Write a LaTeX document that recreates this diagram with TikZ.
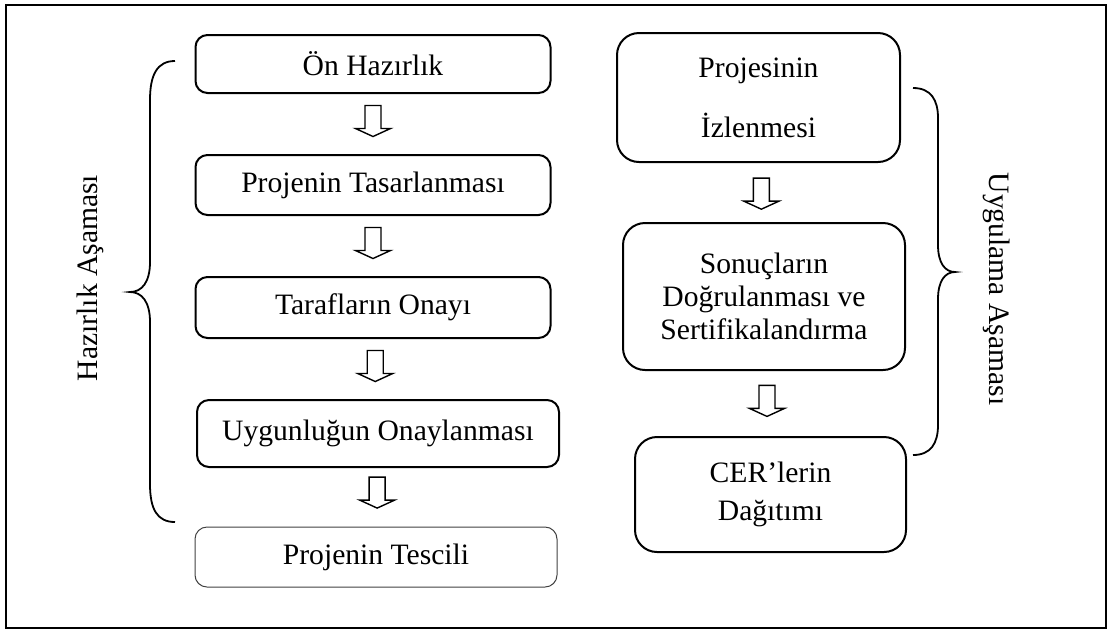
\documentclass[tikz,border=0pt]{standalone}
\usepackage{fontspec}
\setmainfont{Liberation Serif}
\usetikzlibrary{calc}

\tikzset{
  stage/.style={draw, line width=1pt, align=center, inner sep=2pt,
    font=\fontsize{14.8}{17}\selectfont},
  leftstage/.style={stage, rounded corners=6pt, minimum width=177.5pt, minimum height=30pt},
  rightstage/.style={stage, rounded corners=11pt},
  blockdown/.pic={\draw[line width=0.7pt] (-8,-15.5) -- (-8,7.5) -- (-17.5,7.5) -- (0,15.5)
    -- (17.5,7.5) -- (8,7.5) -- (8,-15.5) -- cycle;}
}

\begin{document}
\begin{tikzpicture}[x=0.5pt,y=-0.5pt]
\useasboundingbox (0,0) rectangle (1112,634);

%outer frame
\draw [line width=1pt] (6,5) rectangle (1106,628);

%preparation steps
\node [leftstage, minimum height=29pt] (onhaz) at (373,64) {Ön Hazırlık};
\node [leftstage] (tasar) at (373,185) {Projenin Tasarlanması};
\node [leftstage, minimum height=30.5pt] (onay) at (373,307.5) {Tarafların Onayı};
\node [leftstage, minimum width=181pt, minimum height=33.5pt] (uygun) at (378,433.5) {Uygunluğun Onaylanması};
\node [leftstage, line width=0.5pt, draw=black!75, minimum width=181pt] (tescil) at (376,557) {Projenin Tescili};

%implementation steps
\node [rightstage, minimum width=141.5pt, minimum height=64.5pt,
  font=\fontsize{14.8}{30}\selectfont] (izle) at (758.5,97.5) {Projesinin\\İzlenmesi};
\node [rightstage, minimum width=141pt, minimum height=73.5pt,
  font=\fontsize{14.8}{16.5}\selectfont] (dogru) at (764,296.5) {Sonuçların\\Doğrulanması ve\\Sertifikalandırma};
\node [rightstage, minimum width=135.5pt, minimum height=57.5pt,
  font=\fontsize{14.8}{19}\selectfont] (dagit) at (770.5,494.5) {CER’lerin\\Dağıtımı};

% block arrows between the steps
\pic at ($(onhaz.south)!0.45!(tasar.north)$) {blockdown};
\pic at ($(tasar.south)!0.45!(onay.north)$) {blockdown};
\pic at ($(onay.south)!0.45!(uygun.north)$) {blockdown};
\pic at ($(uygun.south)!0.42!(tescil.north)$) {blockdown};
\pic at ($(izle.south)!0.52!(dogru.north)$) {blockdown};
\pic at ($(dogru.south)!0.46!(dagit.north)$) {blockdown};

%braces
\draw [line width=0.9pt] (175,61) .. controls (157,61) and (150,75) .. (150,100) -- (150,262)
  .. controls (150,282) and (142,292) .. (130,292)
  .. controls (142,292) and (150,302) .. (150,322) -- (150,484)
  .. controls (150,509) and (157,522) .. (175,522);
\draw [line width=0.9pt] (913,88) .. controls (931,88) and (938,100) .. (938,118) -- (938,245)
  .. controls (938,263) and (945,272) .. (955,272)
  .. controls (945,272) and (938,281) .. (938,299) -- (938,425)
  .. controls (938,443) and (931,455) .. (913,455);

%phase labels
\node [rotate=90, font=\fontsize{14.8}{17}\selectfont] (hazlbl) at (90,278) {Hazırlık Aşaması};
\node [rotate=-90, font=\fontsize{14.8}{17}\selectfont] (uyglbl) at (997,289) {Uygulama Aşaması};
\end{tikzpicture}
\end{document}
